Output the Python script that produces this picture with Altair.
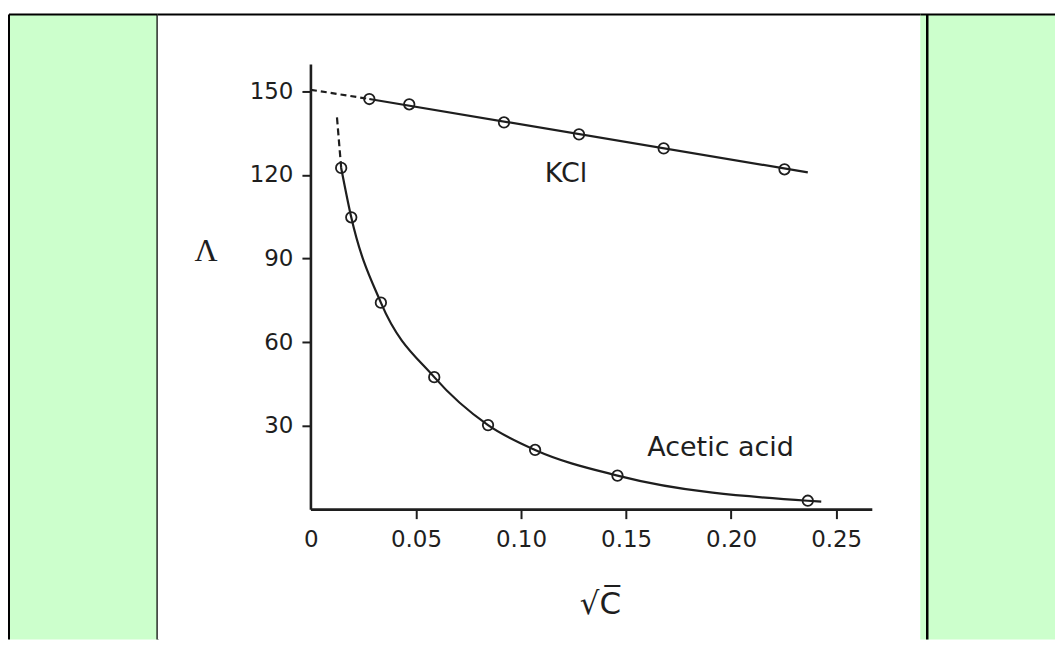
import altair as alt
import pandas as pd

# ---- data ----
kcl_x = [0.0278, 0.0468, 0.0919, 0.1276, 0.1679, 0.2254]
kcl_y = [147.2, 145.3, 138.8, 134.5, 129.5, 122.0]
kcl_fit_x = [0.0278, 0.2365]
kcl_fit_y = [147.2, 120.9]
kcl_extrap_x = [0.0, 0.0278]
kcl_extrap_y = [150.5, 147.2]

acid_x = [0.0144, 0.0192, 0.0333, 0.0587, 0.0843, 0.1067, 0.1459, 0.2365]
acid_y = [122.5, 104.8, 74.2, 47.5, 30.3, 21.4, 12.2, 3.2]
acid_curve_x = acid_x + [0.2429]
acid_curve_y = acid_y + [2.9]
acid_extrap_x = [0.0124, 0.0144]
acid_extrap_y = [140.6, 122.5]

x_axis_line_x = [0.0, 0.2672]
x_axis_line_y = [0.0, 0.0]
y_axis_line_x = [0.0, 0.0]
y_axis_line_y = [0.0, 159.6]

x_ticks = [0, 0.05, 0.10, 0.15, 0.20, 0.25]
y_ticks = [30, 60, 90, 120, 150]

label_text = ["KCl", "Acetic acid"]
label_x = [0.1214, 0.195]
label_y = [120.2, 22.2]

# ---- styling ----
GREEN = "#ccffcc"
INK = "#1e1e1e"
H = 626
W_L, W_M, W_R = 149, 764, 135
FONT = "DejaVu Sans"


def frame(xv, yv):
    return pd.DataFrame({"x": xv, "y": yv, "o": list(range(len(xv)))})


xs = alt.Scale(domain=[-0.072922, 0.290024], nice=False, zero=False)
ys = alt.Scale(domain=[-46.51, 177.46], nice=False, zero=False)

x_axis = alt.Axis(
    values=x_ticks,
    labelExpr="datum.value == 0 ? '0' : format(datum.value, '.2f')",
    domain=False, grid=False, ticks=True, tickSize=9, tickWidth=2, tickColor=INK,
    tickOpacity={"condition": {"test": "datum.value === 0", "value": 0}, "value": 1},
    labelFont=FONT, labelFontSize=23, labelColor=INK, labelPadding=10,
    labelFlush=False, labelOverlap=False, offset=-130,
    title="√C̅", titleFont=FONT, titleFontSize=31, titleFontWeight="normal",
    titleColor=INK, titleX=443, titleY=95, titleAlign="center", titleBaseline="middle",
)
y_axis = alt.Axis(
    values=y_ticks,
    domain=False, grid=False, ticks=True, tickSize=9, tickWidth=2, tickColor=INK,
    labelFont=FONT, labelFontSize=23, labelColor=INK, labelPadding=9,
    labelOverlap=False, offset=-153.5,
    title="Λ", titleAngle=0, titleFont="Liberation Serif", titleFontSize=32,
    titleFontWeight="normal", titleColor=INK, titleX=-105.5, titleY=236,
    titleAlign="center", titleBaseline="middle",
)

X = alt.X("x:Q", scale=xs, axis=x_axis)
Y = alt.Y("y:Q", scale=ys, axis=y_axis)


def line(df, dash=None, interp="linear", width=2.2):
    kw = dict(color=INK, strokeWidth=width, interpolate=interp)
    if dash:
        kw["strokeDash"] = dash
    return alt.Chart(df).mark_line(**kw).encode(x=X, y=Y, order="o:O")


def circles(df):
    return alt.Chart(df).mark_point(
        shape="circle", filled=False, size=110, strokeWidth=1.8, color=INK, opacity=1
    ).encode(x=X, y=Y)


axes_lines = alt.layer(
    line(frame(x_axis_line_x, x_axis_line_y), width=2.6),
    line(frame(y_axis_line_x, y_axis_line_y), width=2.6),
)

kcl_layers = alt.layer(
    line(frame(kcl_extrap_x, kcl_extrap_y), dash=[6, 4]),
    line(frame(kcl_fit_x, kcl_fit_y)),
    circles(frame(kcl_x, kcl_y)),
)

acid_layers = alt.layer(
    line(frame(acid_extrap_x, acid_extrap_y), dash=[7, 4]),
    line(frame(acid_curve_x, acid_curve_y), interp="monotone"),
    circles(frame(acid_x, acid_y)),
)

labels = alt.Chart(
    pd.DataFrame({"t": label_text, "x": label_x, "y": label_y})
).mark_text(font=FONT, fontSize=27, color=INK, align="center", baseline="middle").encode(
    x=X, y=Y, text="t:N"
)

one = pd.DataFrame({"a": [0]})
top_rule_m = alt.Chart(one).mark_rule(color="black", strokeWidth=2).encode(
    x=alt.value(0), x2=alt.value(W_M), y=alt.value(0)
)

main = alt.layer(axes_lines, kcl_layers, acid_layers, labels, top_rule_m).properties(
    width=W_M, height=H, view=alt.ViewBackground(fill="white", strokeWidth=0)
)

left_panel = alt.layer(
    alt.Chart(one).mark_rule(color="black", strokeWidth=2).encode(
        x=alt.value(0), y=alt.value(0), y2=alt.value(H)),
    alt.Chart(one).mark_rule(color="black", strokeWidth=2.5).encode(
        x=alt.value(W_L), y=alt.value(0), y2=alt.value(H)),
    alt.Chart(one).mark_rule(color="black", strokeWidth=2).encode(
        x=alt.value(0), x2=alt.value(W_L), y=alt.value(0)),
).properties(width=W_L, height=H, view=alt.ViewBackground(fill=GREEN, strokeWidth=0))

right_panel = alt.layer(
    alt.Chart(one).mark_rule(color="black", strokeWidth=2.5).encode(
        x=alt.value(7), y=alt.value(0), y2=alt.value(H)),
    alt.Chart(one).mark_rule(color="black", strokeWidth=2).encode(
        x=alt.value(0), x2=alt.value(W_R), y=alt.value(0)),
).properties(width=W_R, height=H, view=alt.ViewBackground(fill=GREEN, strokeWidth=0))

chart = alt.hconcat(left_panel, main, right_panel, spacing=0, bounds="flush").properties(
    padding={"left": 0, "top": 4, "right": 0, "bottom": 0}, background="white"
).configure_view(strokeWidth=0)

chart.save("out.html", embed_options={"renderer": "svg", "actions": False})
